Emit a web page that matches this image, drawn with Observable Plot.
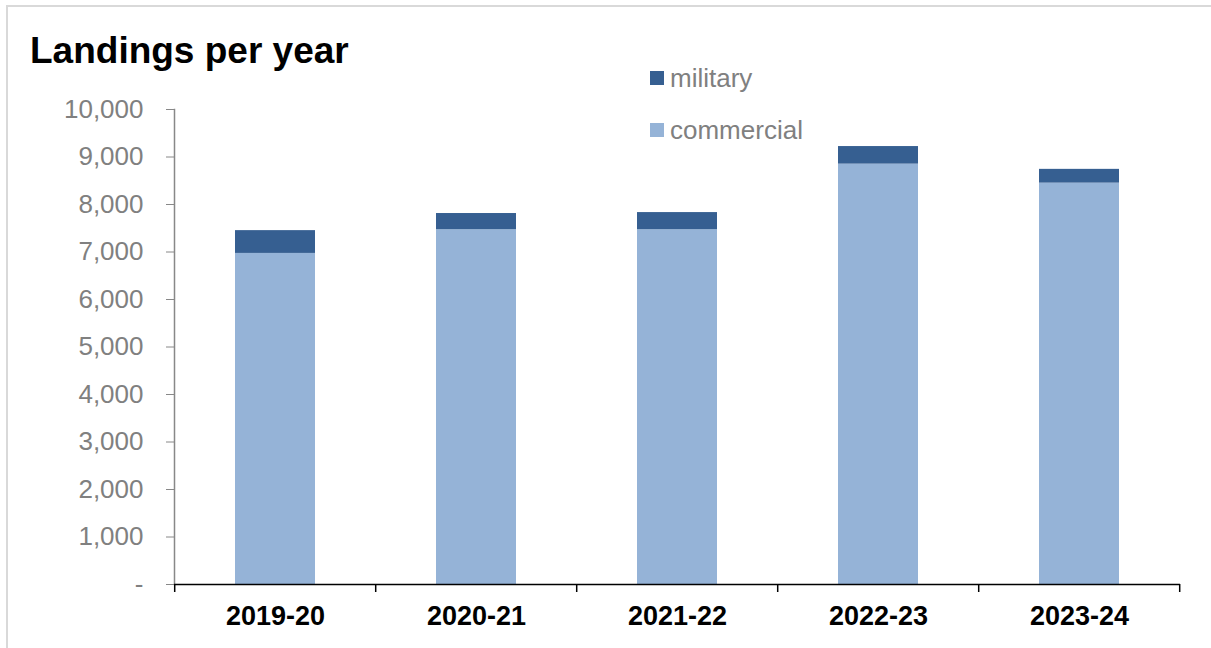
<!DOCTYPE html>
<html>
<head>
<meta charset="utf-8">
<script src="https://cdn.jsdelivr.net/npm/d3@7"></script>
<script src="https://cdn.jsdelivr.net/npm/@observablehq/plot@0.6"></script>
<style>
  html, body { margin: 0; padding: 0; background: #fff; }
  #wrap { position: relative; width: 1211px; height: 648px; overflow: hidden; font-family: "Liberation Sans", Arial, sans-serif; }
  #frame { position: absolute; left: 6px; top: 5px; width: 1300px; height: 700px; border-left: 2px solid #d9d9d9; border-top: 2px solid #d9d9d9; }
  #title { position: absolute; left: 30px; top: 32px; font-size: 37px; line-height: 1; font-weight: bold; color: #000; }
  .leg { position: absolute; left: 650px; font-size: 26px; line-height: 1; color: #808080; display: flex; align-items: center; }
  .leg span.sw { display: inline-block; width: 14px; height: 14px; margin-right: 6px; }
  #chart { position: absolute; left: 0; top: 0; }
</style>
</head>
<body>
<div id="wrap">
  <div id="frame"></div>
  <div id="chart"></div>
  <div id="title">Landings per year</div>
  <div class="leg" style="top:65px"><span class="sw" style="background:#365f91"></span>military</div>
  <div class="leg" style="top:117px"><span class="sw" style="background:#95b3d7"></span>commercial</div>
</div>
<script>
const years = ["2019-20", "2020-21", "2021-22", "2022-23", "2023-24"];
const commercial = [6970, 7470, 7470, 8850, 8450];
const military = [480, 340, 360, 370, 290];
const seriesNames = ["commercial", "military"];
const seriesColors = ["#95b3d7", "#365f91"];
const yTicks = [0, 1000, 2000, 3000, 4000, 5000, 6000, 7000, 8000, 9000, 10000];

const data = [];
years.forEach((y, i) => {
  data.push({year: y, series: "commercial", value: commercial[i]});
  data.push({year: y, series: "military", value: military[i]});
});

const fmt = d => d === 0 ? "-" : d3.format(",")(d);

const chart = Plot.plot({
  width: 1211,
  height: 648,
  marginLeft: 174,
  marginRight: 31,
  marginTop: 109,
  marginBottom: 64,
  style: {fontFamily: "'Liberation Sans', Arial, sans-serif", background: "transparent", overflow: "visible"},
  x: {domain: years, paddingInner: 0.6, paddingOuter: 0.3, label: null},
  y: {domain: [0, 10000], label: null},
  color: {domain: seriesNames, range: seriesColors},
  marks: [
    Plot.barY(data, Plot.stackY({x: "year", y: "value", fill: "series", order: seriesNames})),
    Plot.frame({anchor: "left", stroke: "#888", strokeWidth: 1.5}),
    Plot.axisY({ticks: yTicks, tickFormat: fmt, tickSize: 8, tickPadding: 23, stroke: "#888", color: "#808080", fontSize: 26, label: null}),
    Plot.ruleY([0], {stroke: "#000", strokeWidth: 1.5}),
    Plot.axisX({tickSize: 0, tickPadding: 21, fontSize: 27, fontWeight: "bold", fill: "#000", stroke: "#000", strokeWidth: 0.6, label: null}),
  ]
});
document.getElementById("chart").appendChild(chart);

// band boundary ticks on the x axis, derived from the x scale
const xs = chart.scale("x");
const ys = chart.scale("y");
const svg = d3.select(chart);
const step = xs.step;
const ticksX = years.map(y => xs.apply(y) - step * xs.paddingInner / 2);
ticksX.push(ticksX[ticksX.length - 1] + step);
const y0 = ys.apply(0);
svg.append("g").selectAll("line").data(ticksX).join("line")
  .attr("x1", d => d).attr("x2", d => d)
  .attr("y1", y0).attr("y2", y0 + 8)
  .attr("stroke", "#000").attr("stroke-width", 1.5);
</script>
</body>
</html>
